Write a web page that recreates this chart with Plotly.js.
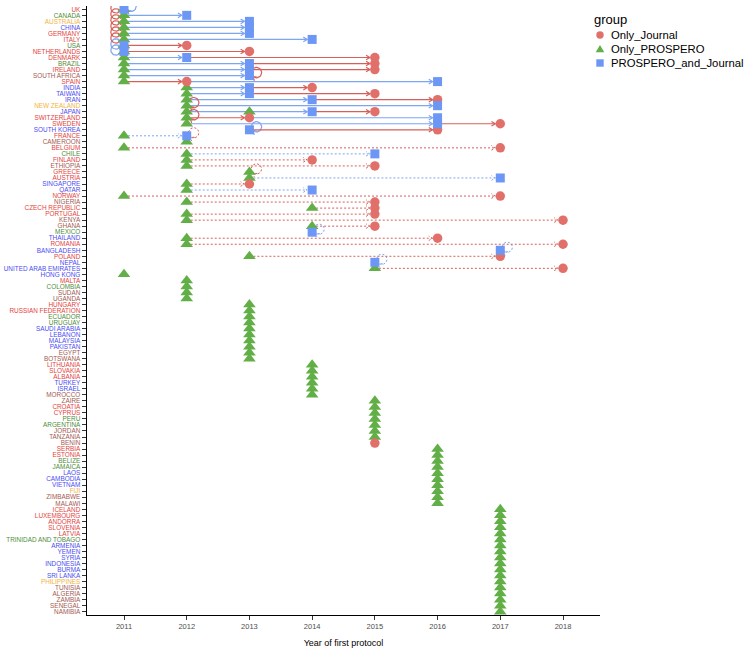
<!DOCTYPE html>
<html><head><meta charset="utf-8">
<script src="https://cdn.plot.ly/plotly-3.0.1.min.js"></script>
<style>body{margin:0;background:#fff}#chart{width:750px;height:651px}</style>
</head><body><div id="chart"></div><script>
// ---------- DATA ----------
const countries = ["UK","CANADA","AUSTRALIA","CHINA","GERMANY","ITALY","USA","NETHERLANDS","DENMARK","BRAZIL",
"IRELAND","SOUTH AFRICA","SPAIN","INDIA","TAIWAN","IRAN","NEW ZEALAND","JAPAN","SWITZERLAND","SWEDEN",
"SOUTH KOREA","FRANCE","CAMEROON","BELGIUM","CHILE","FINLAND","ETHIOPIA","GREECE","AUSTRIA","SINGAPORE",
"QATAR","NORWAY","NIGERIA","CZECH REPUBLIC","PORTUGAL","KENYA","GHANA","MEXICO","THAILAND","ROMANIA",
"BANGLADESH","POLAND","NEPAL","UNITED ARAB EMIRATES","HONG KONG","MALTA","COLOMBIA","SUDAN","UGANDA","HUNGARY",
"RUSSIAN FEDERATION","ECUADOR","URUGUAY","SAUDI ARABIA","LEBANON","MALAYSIA","PAKISTAN","EGYPT","BOTSWANA","LITHUANIA",
"SLOVAKIA","ALBANIA","TURKEY","ISRAEL","MOROCCO","ZAIRE","CROATIA","CYPRUS","PERU","ARGENTINA",
"JORDAN","TANZANIA","BENIN","SERBIA","ESTONIA","BELIZE","JAMAICA","LAOS","CAMBODIA","VIETNAM",
"FIJI","ZIMBABWE","MALAWI","ICELAND","LUXEMBOURG","ANDORRA","SLOVENIA","LATVIA","TRINIDAD AND TOBAGO","ARMENIA",
"YEMEN","SYRIA","INDONESIA","BURMA","SRI LANKA","PHILIPPINES","TUNISIA","ALGERIA","ZAMBIA","SENEGAL","NAMIBIA"];
// E Europe, A Africa, M Americas, S Asia, O Oceania
const region = ["E","M","O","S","E","E","M","E","E","M",
"E","A","E","S","S","S","O","S","E","E",
"S","E","A","E","M","E","A","E","E","S",
"S","E","A","E","E","A","A","M","S","E",
"S","E","S","S","S","E","M","A","A","E",
"E","M","M","S","S","S","S","A","A","E",
"E","E","S","S","A","A","E","E","M","M",
"A","A","A","E","E","M","M","S","S","S",
"O","A","A","E","E","E","E","E","M","S",
"S","S","S","S","S","O","A","A","A","A","A"];
// group codes: J = Only_Journal, P = Only_PROSPERO, B = PROSPERO_and_Journal
const firstYear = [2011,2011,2011,2011,2011,2011,2011,2011,2011,2011,
2011,2011,2011,2012,2012,2012,2012,2012,2012,2012,
2013,2011,2012,2011,2012,2012,2012,2013,2013,2012,
2012,2011,2012,2014,2012,2012,2014,2014,2012,2012,
2017,2013,2015,2015,2011,2012,2012,2012,2012,2013,
2013,2013,2013,2013,2013,2013,2013,2013,2013,2014,
2014,2014,2014,2014,2014,2015,2015,2015,2015,2015,
2015,2015,2015,2016,2016,2016,2016,2016,2016,2016,
2016,2016,2016,2017,2017,2017,2017,2017,2017,2017,
2017,2017,2017,2017,2017,2017,2017,2017,2017,2017,2017];
const firstGroup = ["P","P","P","P","P","P","P","P","P","P",
"P","P","P","P","P","P","P","P","P","P",
"B","P","P","P","P","P","P","P","P","P",
"P","P","P","P","P","P","P","B","P","P",
"B","P","B","P","P","P","P","P","P","P",
"P","P","P","P","P","P","P","P","P","P",
"P","P","P","P","P","P","P","P","P","P",
"P","P","J","P","P","P","P","P","P","P",
"P","P","P","P","P","P","P","P","P","P",
"P","P","P","P","P","P","P","P","P","P","P"];
// later protocols / publications, in order for each country
const evCountry = ["UK","CANADA","AUSTRALIA","CHINA","GERMANY","ITALY","USA","USA","NETHERLANDS","NETHERLANDS",
"DENMARK","DENMARK","BRAZIL","BRAZIL","IRELAND","IRELAND","SOUTH AFRICA","SPAIN","SPAIN","INDIA",
"INDIA","TAIWAN","TAIWAN","IRAN","IRAN","NEW ZEALAND","JAPAN","JAPAN","SWITZERLAND","SWITZERLAND",
"SWEDEN","SWEDEN","SOUTH KOREA","FRANCE","BELGIUM","CHILE","FINLAND","ETHIOPIA","AUSTRIA","SINGAPORE",
"QATAR","NORWAY","NIGERIA","CZECH REPUBLIC","PORTUGAL","KENYA","GHANA","THAILAND","ROMANIA","POLAND",
"UNITED ARAB EMIRATES"];
const evYear = [2011,2012,2013,2013,2013,2014,2011,2012,2011,2013,
2012,2015,2013,2015,2013,2015,2013,2012,2016,2013,
2014,2013,2015,2014,2016,2016,2014,2015,2013,2016,
2016,2017,2016,2012,2017,2015,2014,2015,2017,2013,
2014,2017,2015,2015,2015,2018,2015,2016,2018,2017,
2018];
const evGroup = ["B","B","B","B","B","B","B","J","B","J",
"B","J","B","J","B","J","B","J","B","B",
"J","B","J","B","J","B","B","J","J","B",
"B","J","J","B","J","B","J","J","B","J",
"B","J","J","J","J","J","J","J","J","J",
"J"];
// extra standalone points
const extraCountry = ["JAPAN"];
const extraYear = [2013];
const extraGroup = ["P"];
// same-year (self) links
const loopCountry = ["UK","UK","CANADA","AUSTRALIA","CHINA","GERMANY","ITALY","USA","NETHERLANDS","SOUTH AFRICA",
"NEW ZEALAND","SWITZERLAND","SOUTH KOREA","FRANCE","GREECE","MEXICO","BANGLADESH","NEPAL"];
const loopYear = [2011,2011,2011,2011,2011,2011,2011,2011,2011,2013,
2012,2012,2013,2012,2013,2014,2017,2015];
const loopGroup = ["J","B","J","J","J","J","J","B","B","J",
"J","J","B","J","J","B","B","B"];
const loopSide = ["L","R","L","L","L","L","L","L","L","R",
"R","R","R","R","R","R","R","R"];
const xTicks = [2011,2012,2013,2014,2015,2016,2017,2018];
const groupNames = {J:"Only_Journal", P:"Only_PROSPERO", B:"PROSPERO_and_Journal"};

// ---------- STYLE ----------
const regionColor = {E:"#E2443D", A:"#A35A50", M:"#4E8D3A", S:"#4A4CF2", O:"#F2B43A"};
const markColor = {J:"#E2706A", P:"#62AE47", B:"#6D97F4"};
const lineColor = {J:"#D65F59", B:"#7EA5F2"};
const W=750,H=651, L=87, R=150, T=6, B=36;
const plotW = W-L-R, plotH = H-T-B;
const xr = [2010.41, 2018.59];
const yr = [101.55, 0.45];
const xs = (xr[1]-xr[0])/plotW;     // years per px
const ys = (yr[0]-yr[1])/plotH;     // rows per px (downwards)
const rowOf = {}; countries.forEach((c,i)=>rowOf[c]=i+1);
const dottedFrom = rowOf["FRANCE"];

// segment buckets
const buckets = {};
function bucket(g, dotted){
  const k = g + (dotted?"d":"s");
  if(!buckets[k]) buckets[k] = {x:[], y:[], g, dotted};
  return buckets[k];
}
function chevron(bk, tx, ty, ux, uy){ // tip in data, direction unit in px space
  const a=3.8, b=2.3;
  const nx=-uy, ny=ux;
  bk.x.push(tx + (-a*ux + b*nx)*xs, tx, tx + (-a*ux - b*nx)*xs, null);
  bk.y.push(ty + (-a*uy + b*ny)*ys, ty, ty + (-a*uy - b*ny)*ys, null);
}
// markers
const mk = {J:{x:[],y:[]}, P:{x:[],y:[]}, B:{x:[],y:[]}};
countries.forEach((c,i)=>{ mk[firstGroup[i]].x.push(firstYear[i]); mk[firstGroup[i]].y.push(i+1); });
// chain arrows
const prev = {};
countries.forEach((c,i)=>prev[c]=firstYear[i]);
evCountry.forEach((c,k)=>{
  const row = rowOf[c], y0 = prev[c], y1 = evYear[k], g = evGroup[k];
  mk[g].x.push(y1); mk[g].y.push(row);
  if(y1 !== y0){
    const bk = bucket(g, row>=dottedFrom);
    const tip = y1 - 5*xs;
    bk.x.push(y0, tip, null); bk.y.push(row, row, null);
    chevron(bk, tip, row, 1, 0);
  }
  prev[c] = y1;
});
extraCountry.forEach((c,k)=>{ mk[extraGroup[k]].x.push(extraYear[k]); mk[extraGroup[k]].y.push(rowOf[c]); });
// loops
loopCountry.forEach((c,k)=>{
  const row = rowOf[c], yrv = loopYear[k], g = loopGroup[k];
  const bk = bucket(g, row>=dottedFrom);
  const cxp = loopSide[k]==="L" ? -8 : 7, cyp = loopSide[k]==="L" ? -1.5 : -3, r = 5.2;
  const phi = Math.atan2(-cyp, -cxp);
  const n = 28, a0 = phi + 0.55, a1 = phi + 2*Math.PI - 0.45;
  let th;
  for(let i=0;i<=n;i++){
    th = a0 + (a1-a0)*i/n;
    bk.x.push(yrv + (cxp + r*Math.cos(th))*xs);
    bk.y.push(row + (cyp + r*Math.sin(th))*ys);
  }
  bk.x.push(null); bk.y.push(null);
  const ex = yrv + (cxp + r*Math.cos(a1))*xs, ey = row + (cyp + r*Math.sin(a1))*ys;
  chevron(bk, ex, ey, -Math.sin(a1), Math.cos(a1));
});

const traces = [];
Object.values(buckets).forEach(bk=>{
  traces.push({type:"scatter", mode:"lines", x:bk.x, y:bk.y, hoverinfo:"skip", showlegend:false,
    line:{color:lineColor[bk.g], width: bk.dotted?1:1.2, dash: bk.dotted?"2px,2px":"solid"}});
});
const sym = {P:"triangle-up", J:"circle", B:"square"};
const msz = {P:11, J:9.5, B:9};
["P","J","B"].forEach(g=>{
  traces.push({type:"scatter", mode:"markers", x:mk[g].x, y:mk[g].y, name:groupNames[g], showlegend:false,
    marker:{symbol:sym[g], size:msz[g], color:markColor[g], line:{width:0}}});
});

const ticktext = countries.map((c,i)=>`<span style="color:${regionColor[region[i]]}">${c}</span>`);

// manual legend (paper coords)
const px = v => (v-L)/plotW, py = v => (H-B-v)/plotH;
const lx = 600, lys = [35,49,63];
const shapes = [
  {type:"circle", xref:"paper", yref:"paper", x0:px(lx-3.7), x1:px(lx+3.7), y0:py(lys[0]+3.7), y1:py(lys[0]-3.7), fillcolor:markColor.J, line:{width:0}},
  {type:"path", xref:"paper", yref:"paper", path:`M${px(lx-4.3)},${py(lys[1]+3.3)} L${px(lx+4.3)},${py(lys[1]+3.3)} L${px(lx)},${py(lys[1]-4)} Z`, fillcolor:markColor.P, line:{width:0}},
  {type:"rect", xref:"paper", yref:"paper", x0:px(lx-3.7), x1:px(lx+3.7), y0:py(lys[2]+3.7), y1:py(lys[2]-3.7), fillcolor:markColor.B, line:{width:0}}
];
const annotations = [
  {xref:"paper", yref:"paper", x:px(592), y:py(20), text:"group", showarrow:false, xanchor:"left", yanchor:"middle", font:{size:13, color:"#000"}},
  ...["J","P","B"].map((g,i)=>({xref:"paper", yref:"paper", x:px(609), y:py(lys[i]), text:groupNames[g], showarrow:false, xanchor:"left", yanchor:"middle", font:{size:11.3, color:"#000"}}))
];

const layout = {
  width:W, height:H, margin:{l:L, r:R, t:T, b:B},
  paper_bgcolor:"#fff", plot_bgcolor:"#fff",
  font:{family:"Liberation Sans, Arial, sans-serif"},
  showlegend:false,
  xaxis:{range:xr, tickvals:xTicks, ticktext:xTicks.map(String), ticks:"outside", ticklen:4, tickcolor:"#333", tickwidth:1,
    showline:true, linecolor:"#000", linewidth:1.4, showgrid:false, zeroline:false,
    tickfont:{size:7.5, color:"#4d4d4d"}, title:{text:"Year of first protocol", font:{size:9, color:"#000"}, standoff:9}},
  yaxis:{range:yr, tickvals:countries.map((c,i)=>i+1), ticktext:ticktext, ticks:"outside", ticklen:4, tickcolor:"#333", tickwidth:1,
    showline:true, linecolor:"#000", linewidth:1.4, showgrid:false, zeroline:false, tickfont:{size:6.4}},
  shapes, annotations
};
Plotly.newPlot("chart", traces, layout, {displayModeBar:false, staticPlot:true});
</script></body></html>
